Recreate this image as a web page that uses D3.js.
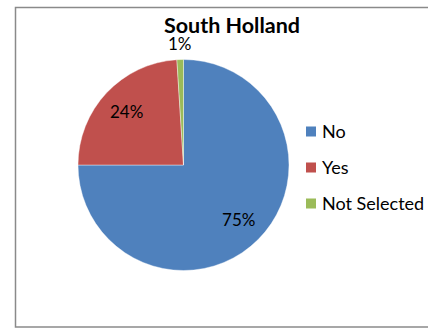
<!DOCTYPE html>
<html>
<head>
<meta charset="utf-8">
<script src="https://cdn.jsdelivr.net/npm/d3@7"></script>
<style>
  html, body { margin: 0; padding: 0; background: #fff; }
  svg { display: block; }
</style>
</head>
<body>
<svg id="chart" width="428" height="331"></svg>
<script>
const categories = ["No", "Yes", "Not Selected"];
const values = [75, 24, 1];
const colors = ["#4F81BD", "#C0504D", "#9BBB59"];
const title = "South Holland";

const svg = d3.select("#chart");
const font = "Lato, 'Open Sans', sans-serif";

// chart frame (right edge runs past the window)
svg.append("rect")
  .attr("x", 15.5).attr("y", 7.5)
  .attr("width", 440).attr("height", 319.5)
  .attr("fill", "#fff")
  .attr("stroke", "#8a8a8a").attr("stroke-width", 1.5);

svg.append("text")
  .attr("x", 232).attr("y", 32.5)
  .attr("text-anchor", "middle")
  .attr("font-family", font).attr("font-weight", "bold")
  .attr("font-size", 21.5).attr("fill", "#000")
  .text(title);

const cx = 183.5, cy = 165, r = 105.5;
const data = categories.map((c, i) => ({ name: c, value: values[i], color: colors[i] }));
const pie = d3.pie().sort(null).value(d => d.value);
const arcs = pie(data);
const arc = d3.arc().innerRadius(0).outerRadius(r);

const g = svg.append("g").attr("transform", `translate(${cx},${cy})`);
g.selectAll("path").data(arcs).join("path")
  .attr("d", arc)
  .attr("fill", d => d.data.color)
  .attr("stroke", "#fff").attr("stroke-width", 0.4);

// percentage labels: inside for large slices, outside for the thin one
const inner = d3.arc().innerRadius(r * 0.74).outerRadius(r * 0.74);
const outer = d3.arc().innerRadius(r + 15.5).outerRadius(r + 15.5);
g.selectAll("text.lbl").data(arcs).join("text")
  .attr("class", "lbl")
  .attr("transform", d => {
    const p = (d.endAngle - d.startAngle) < 0.2 ? outer.centroid(d) : inner.centroid(d);
    return `translate(${p[0]},${p[1]})`;
  })
  .attr("text-anchor", "middle")
  .attr("dy", "0.36em")
  .attr("font-family", font).attr("font-size", 17).attr("fill", "#000")
  .text(d => d3.format(".0f")(d.data.value) + "%");

// legend
const ly = d3.scalePoint().domain(categories).range([131.5, 203.5]);
const leg = svg.append("g");
categories.forEach((c, i) => {
  leg.append("rect")
    .attr("x", 306).attr("y", ly(c) - 5)
    .attr("width", 10).attr("height", 10)
    .attr("fill", colors[i]);
  leg.append("text")
    .attr("x", 322).attr("y", ly(c))
    .attr("dy", "0.36em")
    .attr("font-family", font).attr("font-size", 18).attr("fill", "#000")
    .text(c);
});
</script>
</body>
</html>
